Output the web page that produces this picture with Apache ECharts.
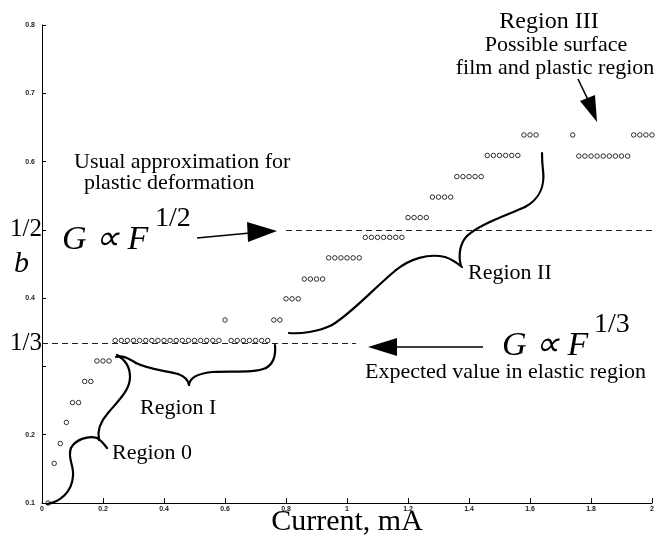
<!DOCTYPE html>
<html>
<head>
<meta charset="utf-8">
<script src="https://cdn.jsdelivr.net/npm/echarts@6/dist/echarts.min.js"></script>
<style>
  html, body { margin: 0; padding: 0; background: #fff; }
  #chart { width: 657px; height: 540px; }
</style>
</head>
<body>
<div id="chart"></div>
<script>
// Measured exponent b of G ~ F^b versus current (mA)
const currentMA = [
  0.02, 0.04, 0.06, 0.08, 0.10, 0.12, 0.14, 0.16, 0.18, 0.20, 0.22,
  0.24, 0.26, 0.28, 0.30, 0.32, 0.34, 0.36, 0.38, 0.40, 0.42, 0.44, 0.46, 0.48, 0.50, 0.52, 0.54, 0.56, 0.58,
  0.60,
  0.62, 0.64, 0.66, 0.68, 0.70, 0.72, 0.74,
  0.76, 0.78,
  0.80, 0.82, 0.84,
  0.86, 0.88, 0.90, 0.92,
  0.94, 0.96, 0.98, 1.00, 1.02, 1.04,
  1.06, 1.08, 1.10, 1.12, 1.14, 1.16, 1.18,
  1.20, 1.22, 1.24, 1.26,
  1.28, 1.30, 1.32, 1.34,
  1.36, 1.38, 1.40, 1.42, 1.44,
  1.46, 1.48, 1.50, 1.52, 1.54, 1.56,
  1.58, 1.60, 1.62,
  1.74,
  1.76, 1.78, 1.80, 1.82, 1.84, 1.86, 1.88, 1.90, 1.92,
  1.94, 1.96, 1.98, 2.00
];
const bExponent = [
  0.100, 0.158, 0.187, 0.218, 0.247, 0.247, 0.278, 0.278, 0.308, 0.308, 0.308,
  0.338, 0.338, 0.338, 0.338, 0.338, 0.338, 0.338, 0.338, 0.338, 0.338, 0.338, 0.338, 0.338, 0.338, 0.338, 0.338, 0.338, 0.338,
  0.368,
  0.338, 0.338, 0.338, 0.338, 0.338, 0.338, 0.338,
  0.368, 0.368,
  0.399, 0.399, 0.399,
  0.428, 0.428, 0.428, 0.428,
  0.459, 0.459, 0.459, 0.459, 0.459, 0.459,
  0.489, 0.489, 0.489, 0.489, 0.489, 0.489, 0.489,
  0.518, 0.518, 0.518, 0.518,
  0.548, 0.548, 0.548, 0.548,
  0.578, 0.578, 0.578, 0.578, 0.578,
  0.609, 0.609, 0.609, 0.609, 0.609, 0.609,
  0.639, 0.639, 0.639,
  0.639,
  0.608, 0.608, 0.608, 0.608, 0.608, 0.608, 0.608, 0.608, 0.608,
  0.639, 0.639, 0.639, 0.639
];
// Axis ticks and labelled levels
const yTickValues = [0.1, 0.2, 0.3, 0.4, 0.5, 0.6, 0.7, 0.8];
const yLabelValues = [0.1, 0.2, 1 / 3, 0.4, 0.5, 0.6, 0.7, 0.8];
const elasticLevel = 1 / 3;   // G ~ F^(1/3)
const plasticLevel = 1 / 2;   // G ~ F^(1/2)

const serif = '"Liberation Serif", "Times New Roman", serif';

const points = currentMA.map((x, i) => [x, bExponent[i]]);

const chart = echarts.init(document.getElementById('chart'), null, { renderer: 'canvas' });

function txt(text, x, y, size, opts) {
  opts = opts || {};
  return {
    type: 'text', x: x, y: y, silent: true, z: 10,
    style: {
      text: text,
      font: (opts.italic ? 'italic ' : '') + size + 'px ' + serif,
      fill: '#000',
      align: opts.align || 'left',
      verticalAlign: 'middle'
    }
  };
}
// A brace drawn as a chain of cubic segments: start point followed by
// [cp1x, cp1y, cp2x, cp2y, x, y] groups.
function brace(start, segs) {
  const out = [];
  let px = start[0], py = start[1];
  segs.forEach(function (s) {
    out.push({
      type: 'bezierCurve', silent: true, z: 10,
      shape: { x1: px, y1: py, cpx1: s[0], cpy1: s[1], cpx2: s[2], cpy2: s[3], x2: s[4], y2: s[5] },
      style: { stroke: '#000', lineWidth: 2.2, fill: null, lineCap: 'round' }
    });
    px = s[4]; py = s[5];
  });
  return out;
}
function head(pts) {
  return { type: 'polygon', silent: true, z: 10, shape: { points: pts }, style: { fill: '#000' } };
}
function shaft(x1, y1, x2, y2) {
  return { type: 'line', silent: true, z: 10, shape: { x1: x1, y1: y1, x2: x2, y2: y2 }, style: { stroke: '#000', lineWidth: 1.6 } };
}

const annotations = [
  // Region III heading and arrow
  txt('Region III', 549, 22, 24, { align: 'center' }),
  txt('Possible surface', 556, 45, 22, { align: 'center' }),
  txt('film and plastic region', 555, 68, 22, { align: 'center' }),
  shaft(578, 79, 590, 104),
  head([[580, 101], [595, 95], [597, 122]]),

  // Plastic approximation
  txt('Usual approximation for', 74, 162, 22),
  txt('plastic deformation', 84, 183, 22),
  txt('G \u221D F', 62, 240, 34, { italic: true }),
  txt('1/2', 155, 219, 28),
  shaft(197, 238, 250, 233),
  head([[247, 222], [277, 231], [248, 242]]),

  // Elastic expectation
  txt('G \u221D F', 502, 346, 34, { italic: true }),
  txt('1/3', 594, 325, 28),
  shaft(396, 347, 483, 347),
  head([[368, 347], [397, 338], [397, 356]]),
  txt('Expected value in elastic region', 365, 372, 22),

  // Region labels
  txt('Region 0', 112, 453, 22),
  txt('Region I', 140, 408, 22),
  txt('Region II', 468, 273, 22)
].concat(
  // Region 0 brace
  brace([47, 504], [[60, 502, 72, 492, 73, 476], [74, 464, 67, 458, 71, 448], [75, 440, 88, 435, 97, 438], [101, 440, 104, 444, 107, 448]]),
  brace([99, 440], [[97, 431, 100, 422, 108, 413], [119, 400, 130, 390, 130, 377], [130, 366, 124, 359, 117, 355]]),
  // Region I brace
  brace([116, 357], [[122, 355, 128, 358, 136, 363], [150, 370, 168, 371, 178, 374], [184, 376, 188, 380, 189, 385]]),
  brace([189, 385], [[190, 378, 196, 374, 212, 372], [235, 371, 255, 373, 266, 368], [273, 364, 276, 356, 275, 345]]),
  // Region II brace
  brace([289, 333], [[300, 334, 318, 332, 332, 325], [352, 313, 372, 290, 396, 270], [410, 259, 428, 253, 445, 257], [452, 259, 457, 263, 462, 267]]),
  brace([461, 266], [[458, 255, 460, 243, 467, 236], [480, 224, 505, 216, 525, 207], [540, 199, 545, 185, 543, 170], [542, 162, 542, 157, 542, 153]])
);

chart.setOption({
  animation: false,
  backgroundColor: '#fff',
  grid: { left: 42, right: 5, top: 25, bottom: 37, containLabel: false, outerBoundsMode: 'none' },
  xAxis: {
    type: 'value', min: 0, max: 2, interval: 0.2,
    name: 'Current, mA', nameLocation: 'middle', nameGap: 4, nameMoveOverlap: false,
    nameTextStyle: { fontFamily: serif, fontSize: 30, color: '#000', verticalAlign: 'top' },
    axisLine: { show: true, lineStyle: { color: '#000', width: 1 } },
    axisTick: { show: true, inside: true, length: 5, lineStyle: { color: '#000' } },
    axisLabel: { fontSize: 7, fontWeight: 'bold', color: '#222', fontFamily: 'Liberation Sans', margin: 3 },
    splitLine: { show: false }
  },
  yAxis: {
    type: 'value', min: 0.1, max: 0.8, interval: 0.1,
    name: 'b', nameLocation: 'middle', nameGap: 13, nameRotate: 0, nameMoveOverlap: false,
    nameTextStyle: { fontFamily: serif, fontSize: 30, fontStyle: 'italic', color: '#000' },
    axisLine: { show: true, lineStyle: { color: '#000', width: 1 } },
    axisTick: { show: true, inside: true, length: 4, customValues: yTickValues, lineStyle: { color: '#000' } },
    axisLabel: {
      customValues: yLabelValues,
      margin: 0,
      formatter: function (v) {
        if (Math.abs(v - elasticLevel) < 1e-6) return '{big|1/3}';
        if (Math.abs(v - plasticLevel) < 1e-6) return '{big|1/2}';
        return '{sm|' + v.toFixed(1) + '}';
      },
      rich: {
        sm: { fontSize: 7, fontWeight: 'bold', color: '#222', fontFamily: 'Liberation Sans', padding: [0, 7, 0, 0] },
        big: { fontSize: 25, color: '#000', fontFamily: serif }
      }
    },
    splitLine: { show: false }
  },
  series: [{
    type: 'scatter',
    data: points,
    symbol: 'circle',
    symbolSize: 4.5,
    clip: false,
    itemStyle: { color: '#fff', borderColor: '#000', borderWidth: 1 },
    markLine: {
      silent: true,
      symbol: ['none', 'none'],
      label: { show: false },
      lineStyle: { color: '#222', width: 1, type: [6, 4] },
      data: [
        [{ coord: [0, elasticLevel] }, { coord: [1.03, elasticLevel] }],
        [{ coord: [0.8, plasticLevel] }, { coord: [2, plasticLevel] }]
      ]
    }
  }],
  graphic: annotations
});
</script>
</body>
</html>
